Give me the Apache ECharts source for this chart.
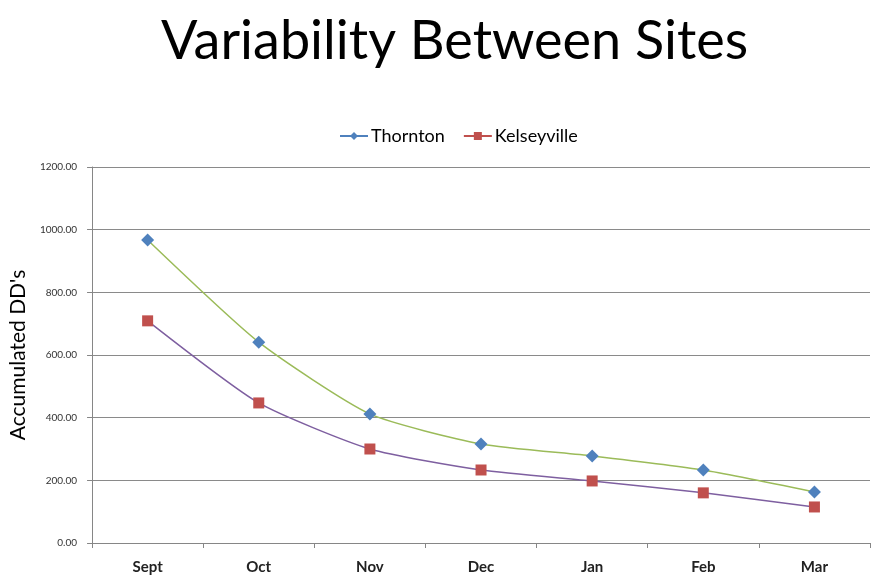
<!DOCTYPE html>
<html><head><meta charset="utf-8">
<script src="https://cdn.jsdelivr.net/npm/echarts@6/dist/echarts.min.js"></script>
<style>html,body{margin:0;padding:0;background:#fff}#c{width:871px;height:577px}</style>
</head><body><div id="c"></div>
<script>
const categories = ['Sept','Oct','Nov','Dec','Jan','Feb','Mar'];
const thornton = [967, 641, 412, 316, 278, 233, 163];
const kelseyville = [709, 447, 300, 233, 198, 160, 115];
const yTicks = [0, 200, 400, 600, 800, 1000, 1200];

const chart = echarts.init(document.getElementById('c'));
chart.setOption({
  backgroundColor: '#fff',
  animation: false,
  title: {
    text: 'Variability Between Sites', left: 156, top: 10,
    textStyle: {fontFamily: 'Lato', fontWeight: 'normal', fontSize: 54, color: '#000'}
  },
  legend: {
    top: 122, left: 334, itemGap: 18, itemWidth: 28, itemHeight: 10,
    textStyle: {fontFamily: 'Lato', fontSize: 18, color: '#000', padding: [0,0,0,-2]},
    data: [
      {name: 'Thornton', itemStyle: {color: '#4f81bd'}, lineStyle: {color: '#4f81bd', width: 2}},
      {name: 'Kelseyville', itemStyle: {color: '#c0504d'}, lineStyle: {color: '#c0504d', width: 2}}
    ]
  },
  grid: {left: 90, right: 1, top: 167, bottom: 34},
  xAxis: {
    type: 'category', data: categories, boundaryGap: true,
    axisLine: {lineStyle: {color: '#868686'}},
    axisTick: {show: true, interval: 0, length: 5, lineStyle: {color: '#868686'}},
    axisLabel: {fontFamily: 'Lato', fontSize: 15, fontWeight: 'bold', color: '#222', margin: 17}
  },
  yAxis: {
    type: 'value', min: yTicks[0], max: yTicks[yTicks.length-1], interval: 200,
    name: "Accumulated DD's", nameLocation: 'middle', nameGap: 60, nameRotate: 90,
    nameTextStyle: {fontFamily: 'Lato', fontSize: 21, color: '#000'},
    axisLine: {show: true, lineStyle: {color: '#868686'}},
    axisTick: {show: true, length: 5, lineStyle: {color: '#868686'}},
    axisLabel: {fontFamily: 'Lato', fontSize: 10, color: '#333', margin: 15, formatter: v => v.toFixed(2)},
    splitLine: {lineStyle: {color: '#8a8a8a', width: 1}}
  },
  series: [
    {name: 'Thornton', type: 'line', data: thornton, smooth: 0.2,
     symbol: 'diamond', symbolSize: 13,
     itemStyle: {color: '#4f81bd'}, lineStyle: {color: '#9bbb59', width: 1.5}},
    {name: 'Kelseyville', type: 'line', data: kelseyville, smooth: 0.2,
     symbol: 'rect', symbolSize: 11,
     itemStyle: {color: '#c0504d'}, lineStyle: {color: '#7e5fa0', width: 1.5}}
  ]
});
</script></body></html>
